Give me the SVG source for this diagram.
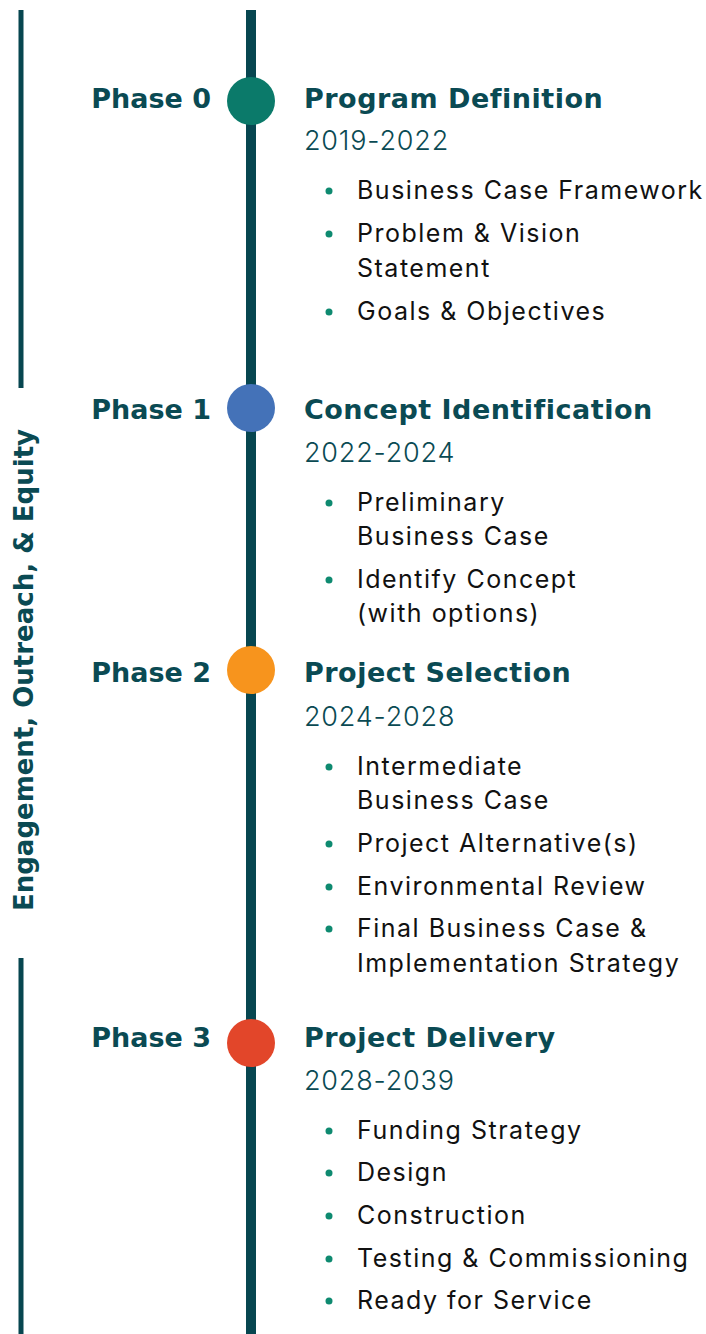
<svg xmlns="http://www.w3.org/2000/svg" width="706" height="1334" viewBox="0 0 706 1334">
<style>
.ph{font-family:"DejaVu Sans","Liberation Sans",sans-serif;font-weight:700;font-size:27px;fill:#0a4a53;text-anchor:end}
.tt{font-family:"DejaVu Sans","Liberation Sans",sans-serif;font-weight:700;font-size:27px;fill:#0a4a53;letter-spacing:0.5px}
.yr{font-family:Inter,"Open Sans","Liberation Sans",sans-serif;font-weight:300;font-size:27px;fill:#0a4a53;letter-spacing:0.8px}
.bl{font-family:Inter,"Open Sans","Liberation Sans",sans-serif;font-weight:400;font-size:25px;fill:#111111;letter-spacing:1.5px}
.dot{fill:#0e8a70}
.ln{stroke:#074650;fill:none}
.side{font-family:"DejaVu Sans","Liberation Sans",sans-serif;font-weight:700;font-size:26px;fill:#0a4a53;text-anchor:middle}
</style>
<g id="connectors">
<line class="ln" x1="21" y1="10" x2="21" y2="388" stroke-width="5"/>
<line class="ln" x1="21" y1="958" x2="21" y2="1334" stroke-width="5"/>
<line class="ln" x1="251" y1="10" x2="251" y2="1334" stroke-width="10"/>
</g>
<g id="side-label">
<text class="side" transform="translate(33,670) rotate(-90)">Engagement, Outreach, &amp; Equity</text>
</g>
<g id="phase0">
<circle cx="251" cy="101" r="24" fill="#0b7a6a"/>
<text class="ph" x="211" y="108">Phase 0</text>
<text class="tt" x="304" y="108">Program Definition</text>
<text class="yr" x="304" y="150">2019-2022</text>
<circle class="dot" cx="329" cy="191" r="3.5"/><text class="bl" x="357" y="199">Business Case Framework</text>
<circle class="dot" cx="329" cy="234" r="3.5"/><text class="bl" x="357" y="242">Problem &amp; Vision</text>
<text class="bl" x="357" y="277">Statement</text>
<circle class="dot" cx="329" cy="312" r="3.5"/><text class="bl" x="357" y="320">Goals &amp; Objectives</text>
</g>
<g id="phase1">
<circle cx="251" cy="408" r="24" fill="#4472b8"/>
<text class="ph" x="211" y="419">Phase 1</text>
<text class="tt" x="304" y="419">Concept Identification</text>
<text class="yr" x="304" y="462">2022-2024</text>
<circle class="dot" cx="329" cy="503" r="3.5"/><text class="bl" x="357" y="511">Preliminary</text>
<text class="bl" x="357" y="545">Business Case</text>
<circle class="dot" cx="329" cy="580" r="3.5"/><text class="bl" x="357" y="588">Identify Concept</text>
<text class="bl" x="357" y="622">(with options)</text>
</g>
<g id="phase2">
<circle cx="251" cy="670" r="24" fill="#f7941d"/>
<text class="ph" x="211" y="682">Phase 2</text>
<text class="tt" x="304" y="682">Project Selection</text>
<text class="yr" x="304" y="726">2024-2028</text>
<circle class="dot" cx="329" cy="767" r="3.5"/><text class="bl" x="357" y="775">Intermediate</text>
<text class="bl" x="357" y="809">Business Case</text>
<circle class="dot" cx="329" cy="844" r="3.5"/><text class="bl" x="357" y="852">Project Alternative(s)</text>
<circle class="dot" cx="329" cy="887" r="3.5"/><text class="bl" x="357" y="895">Environmental Review</text>
<circle class="dot" cx="329" cy="929" r="3.5"/><text class="bl" x="357" y="937">Final Business Case &amp;</text>
<text class="bl" x="357" y="972">Implementation Strategy</text>
</g>
<g id="phase3">
<circle cx="251" cy="1043" r="24" fill="#e2462a"/>
<text class="ph" x="211" y="1047">Phase 3</text>
<text class="tt" x="304" y="1047">Project Delivery</text>
<text class="yr" x="304" y="1090">2028-2039</text>
<circle class="dot" cx="329" cy="1131" r="3.5"/><text class="bl" x="357" y="1139">Funding Strategy</text>
<circle class="dot" cx="329" cy="1173" r="3.5"/><text class="bl" x="357" y="1181">Design</text>
<circle class="dot" cx="329" cy="1216" r="3.5"/><text class="bl" x="357" y="1224">Construction</text>
<circle class="dot" cx="329" cy="1259" r="3.5"/><text class="bl" x="357" y="1267">Testing &amp; Commissioning</text>
<circle class="dot" cx="329" cy="1301" r="3.5"/><text class="bl" x="357" y="1309">Ready for Service</text>
</g>
</svg>
